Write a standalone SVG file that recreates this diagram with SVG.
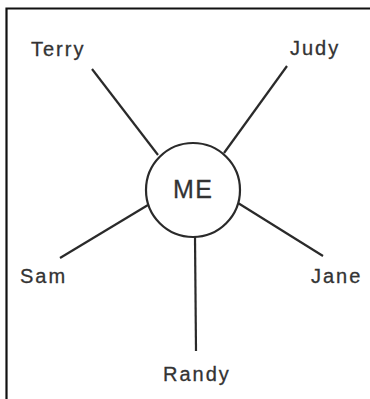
<svg xmlns="http://www.w3.org/2000/svg" width="370" height="399" viewBox="0 0 370 399">
<style>
.lbl{font-family:"Liberation Sans",Arial,sans-serif;font-size:20px;letter-spacing:2px;fill:#333;stroke:#333;stroke-width:0.3}
.me{font-family:"Liberation Sans",Arial,sans-serif;font-size:25px;letter-spacing:1.5px;fill:#333;stroke:#333;stroke-width:0.3}
.ln{stroke:#2a2a2a;stroke-width:2.2;fill:none}
</style>
<rect width="370" height="399" fill="#fff"/>
<path d="M6.5 399 V8.5 H370" fill="none" stroke="#111" stroke-width="2.2"/>
<g id="connectors">
<line class="ln" x1="92" y1="69" x2="158" y2="155"/>
<line class="ln" x1="287" y1="66" x2="224" y2="153"/>
<line class="ln" x1="60" y1="258" x2="148" y2="205"/>
<line class="ln" x1="323" y1="256" x2="238" y2="203"/>
<line class="ln" x1="195" y1="237" x2="196" y2="351"/>
</g>
<g id="me">
<circle class="ln" cx="193" cy="190" r="47"/>
<text class="me" x="173" y="198">ME</text>
</g>
<g id="terry"><text class="lbl" x="31" y="56">Terry</text></g>
<g id="judy"><text class="lbl" x="290" y="55">Judy</text></g>
<g id="sam"><text class="lbl" x="20" y="283">Sam</text></g>
<g id="jane"><text class="lbl" x="311" y="283">Jane</text></g>
<g id="randy"><text class="lbl" x="163" y="381">Randy</text></g>
</svg>
